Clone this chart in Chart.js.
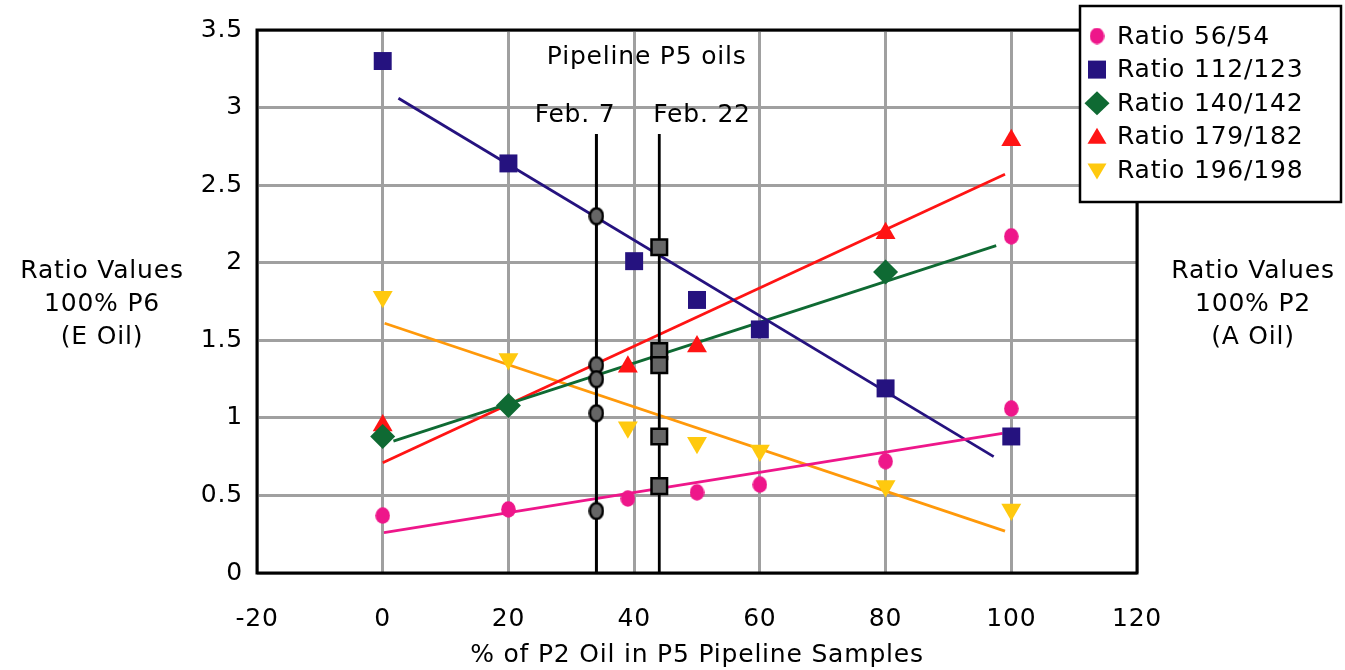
<!DOCTYPE html>
<html><head><meta charset="utf-8">
<script src="https://cdn.jsdelivr.net/npm/chart.js@4.4.1/dist/chart.umd.min.js"></script>
<style>html,body{margin:0;padding:0;background:#fff;}canvas{display:block;}</style>
</head><body>
<canvas id="c" width="1345" height="670"></canvas>
<script>
// ---- data ----
const xTicks = [-20, 0, 20, 40, 60, 80, 100, 120];
const yTicks = [0, 0.5, 1, 1.5, 2, 2.5, 3, 3.5];
const seriesNames = ['Ratio 56/54', 'Ratio 112/123', 'Ratio 140/142', 'Ratio 179/182', 'Ratio 196/198'];

const x56 = [0, 20, 39, 50, 60, 80, 100, 100];
const y56 = [0.37, 0.41, 0.48, 0.52, 0.57, 0.72, 1.06, 2.17];
const x112 = [0, 20, 40, 50, 60, 80, 100];
const y112 = [3.30, 2.64, 2.01, 1.76, 1.57, 1.19, 0.88];
const x140 = [0, 20, 80];
const y140 = [0.88, 1.08, 1.94];
const x179 = [0, 39, 50, 80, 100];
const y179 = [0.95, 1.33, 1.46, 2.19, 2.79];
const x196 = [0, 20, 39, 50, 60, 80, 100];
const y196 = [1.78, 1.38, 0.94, 0.84, 0.79, 0.56, 0.41];

// trend lines (start, end) as drawn
const trendX56 = [0.2, 98.6],  trendY56 = [0.26, 0.90];
const trendX112 = [2.5, 97.2], trendY112 = [3.06, 0.75];
const trendX140 = [1.7, 97.6], trendY140 = [0.85, 2.11];
const trendX179 = [0, 99],     trendY179 = [0.71, 2.57];
const trendX196 = [0.3, 99],   trendY196 = [1.61, 0.27];

// pipeline P5 sample lines
const sampleLabels = ['Feb. 7', 'Feb. 22'];
const sampleX = [34, 44];
const sampleLineTop = 2.83;
const feb7Y = [2.30, 1.34, 1.25, 1.03, 0.40];
const feb22Y = [2.10, 1.43, 1.34, 0.88, 0.56];

// ---- styles ----
const FONT = 'DejaVu Sans';
const FS = 25;
const LS = '0.8px';
const C = {pink:'#EE168A', blue:'#25127F', green:'#0F6A33', red:'#FF1414', yellow:'#FFC90E', orange:'#FF990A', gray:'#666666'};

function ellipseCanvas(w, h, fill, stroke, lw) {
  const c = document.createElement('canvas'); c.width = w; c.height = h;
  const g = c.getContext('2d'); const l = lw || 0;
  g.beginPath(); g.ellipse(w/2, h/2, w/2 - l/2 - 0.2, h/2 - l/2 - 0.2, 0, 0, Math.PI*2);
  g.fillStyle = fill; g.fill();
  if (l) { g.lineWidth = l; g.strokeStyle = stroke; g.stroke(); }
  return c;
}
const pinkDot = ellipseCanvas(15, 17, C.pink);
const grayDot = ellipseCanvas(16, 19, C.gray, '#000', 2.5);

const pts = (xs, ys) => xs.map((x, i) => ({x: x, y: ys[i]}));
const trend = (xs, ys, color, order) => ({type:'line', data: pts(xs, ys), borderColor: color, borderWidth: 2.8,
  pointRadius: 0, showLine: true, fill: false, order: order});

const datasets = [
  trend(trendX56, trendY56, C.pink, 20),
  trend(trendX112, trendY112, C.blue, 20),
  trend(trendX140, trendY140, C.green, 20),
  trend(trendX179, trendY179, C.red, 20),
  trend(trendX196, trendY196, C.orange, 20),
  {type:'line', data: pts([sampleX[0], sampleX[0]], [0, sampleLineTop]), borderColor:'#000', borderWidth:3, pointRadius:0, order:15},
  {type:'line', data: pts([sampleX[1], sampleX[1]], [0, sampleLineTop]), borderColor:'#000', borderWidth:2.8, pointRadius:0, order:15},
  {label: seriesNames[4], data: pts(x196, y196), pointStyle:'triangle', rotation:180, pointRadius:11.5, backgroundColor:C.yellow, borderWidth:0, order:10, legendColor:C.yellow},
  {label: seriesNames[3], data: pts(x179, y179), pointStyle:'triangle', pointRadius:11.5, backgroundColor:C.red, borderWidth:0, order:9, legendColor:C.red},
  {label: seriesNames[2], data: pts(x140, y140), pointStyle:'rectRot', pointRadius:12.5, backgroundColor:C.green, borderWidth:0, order:8, legendColor:C.green},
  {label: seriesNames[1], data: pts(x112, y112), pointStyle:'rect', pointRadius:12.7, backgroundColor:C.blue, borderWidth:0, order:7, legendColor:C.blue},
  {label: seriesNames[0], data: pts(x56, y56), pointStyle: pinkDot, pointRadius:8, backgroundColor:C.pink, borderWidth:0, order:6, legendColor:C.pink},
  {data: pts(feb22Y.map(() => sampleX[1]), feb22Y), pointStyle:'rect', pointRadius:11, backgroundColor:C.gray, borderColor:'#000', borderWidth:2.5, order:1},
  {data: pts(feb7Y.map(() => sampleX[0]), feb7Y), pointStyle: grayDot, pointRadius:8, backgroundColor:C.gray, order:0}
];

const annotations = [
  {text:'Pipeline P5 oils', x:42, y:3.32},
  {text:sampleLabels[0], x:30.6, y:2.95},
  {text:sampleLabels[1], x:50.8, y:2.95}
];
const sideTexts = [
  {x:102, lines:['Ratio Values', '100% P6', '(E Oil)']},
  {x:1253, lines:['Ratio Values', '100% P2', '(A Oil)']}
];

const spacingPlugin = {
  id:'spacing',
  beforeUpdate(chart){ chart.ctx.letterSpacing = LS; },
  beforeDraw(chart){ chart.ctx.letterSpacing = LS; }
};

const framePlugin = {
  id:'frame',
  beforeDatasetsDraw(chart){
    const {ctx, chartArea:a} = chart;
    ctx.save(); ctx.strokeStyle = '#000'; ctx.lineWidth = 3;
    ctx.strokeRect(a.left, a.top, a.right - a.left, a.bottom - a.top);
    ctx.restore();
  },
  afterDraw(chart){
    const ctx = chart.ctx, xs = chart.scales.x, ys = chart.scales.y;
    ctx.save();
    ctx.letterSpacing = LS;
    ctx.fillStyle = '#000'; ctx.font = FS + 'px "' + FONT + '"';
    ctx.textAlign = 'center'; ctx.textBaseline = 'middle';
    annotations.forEach(a => ctx.fillText(a.text, xs.getPixelForValue(a.x), ys.getPixelForValue(a.y)));
    sideTexts.forEach(s => s.lines.forEach((t, i) => ctx.fillText(t, s.x, 271 + i * 33)));
    // legend
    const L = {x:1080, y:6, w:261, h:196};
    ctx.fillStyle = '#fff'; ctx.fillRect(L.x, L.y, L.w, L.h);
    ctx.strokeStyle = '#000'; ctx.lineWidth = 2.5; ctx.strokeRect(L.x, L.y, L.w, L.h);
    const items = chart.data.datasets.filter(d => d.label).sort((a, b) => seriesNames.indexOf(a.label) - seriesNames.indexOf(b.label));
    items.forEach((d, i) => {
      const cy = 36 + i * 33.6, cx = 1097;
      ctx.fillStyle = d.legendColor;
      ctx.beginPath();
      if (d.pointStyle === pinkDot) { ctx.drawImage(pinkDot, cx - 7.5, cy - 8.5); }
      else if (d.pointStyle === 'rect') { ctx.fillRect(cx - 9, cy - 9, 18, 18); }
      else if (d.pointStyle === 'rectRot') { ctx.moveTo(cx, cy - 12); ctx.lineTo(cx + 12.5, cy); ctx.lineTo(cx, cy + 12); ctx.lineTo(cx - 12.5, cy); ctx.closePath(); ctx.fill(); }
      else if (d.rotation === 180) { ctx.moveTo(cx - 9.5, cy - 7); ctx.lineTo(cx + 9.5, cy - 7); ctx.lineTo(cx, cy + 9); ctx.closePath(); ctx.fill(); }
      else { ctx.moveTo(cx - 9.5, cy + 7); ctx.lineTo(cx + 9.5, cy + 7); ctx.lineTo(cx, cy - 9); ctx.closePath(); ctx.fill(); }
      ctx.fillStyle = '#000'; ctx.textAlign = 'left';
      ctx.fillText(d.label, 1117, cy + 1);
    });
    ctx.restore();
  }
};

new Chart(document.getElementById('c'), {
  type: 'scatter',
  data: {datasets},
  options: {
    responsive: false, animation: false, devicePixelRatio: 1,
    layout: {padding: {left: 0, right: 208, top: 30, bottom: 0}},
    plugins: {legend: {display: false}, tooltip: {enabled: false}},
    scales: {
      x: {
        type: 'linear', min: xTicks[0], max: xTicks[xTicks.length - 1],
        afterBuildTicks: s => { s.ticks = xTicks.map(v => ({value: v})); },
        afterFit: s => { s.height = 97; },
        grid: {color: '#A0A0A0', lineWidth: 3, drawTicks: false},
        border: {display: false},
        ticks: {color: '#000', font: {family: FONT, size: FS}, padding: 31, maxRotation: 0, callback: v => String(v)},
        title: {display: true, text: '% of P2 Oil in P5 Pipeline Samples', color: '#000', font: {family: FONT, size: FS}, padding: {top: 0, bottom: 0}}
      },
      y: {
        type: 'linear', min: yTicks[0], max: yTicks[yTicks.length - 1],
        afterBuildTicks: s => { s.ticks = yTicks.map(v => ({value: v})); },
        afterFit: s => { s.width = 257; },
        grid: {color: '#A0A0A0', lineWidth: 3, drawTicks: false},
        border: {display: false},
        ticks: {color: '#000', font: {family: FONT, size: FS}, padding: 14, callback: v => String(v)}
      }
    }
  },
  plugins: [spacingPlugin, framePlugin]
});
</script>
</body></html>
